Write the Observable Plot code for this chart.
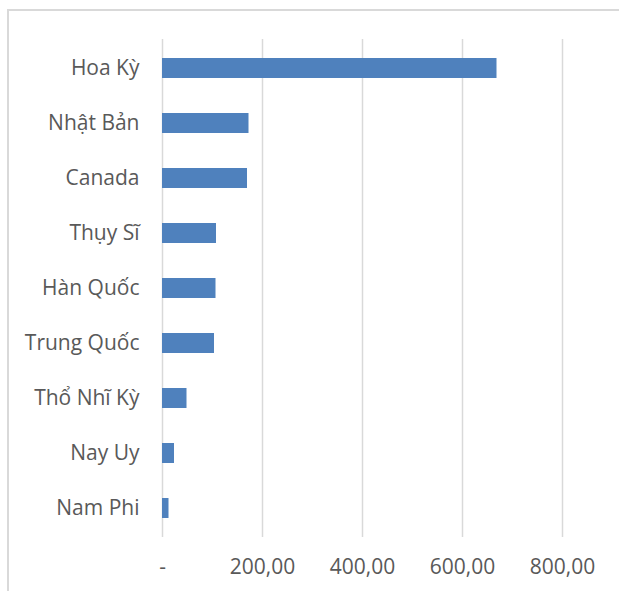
<!DOCTYPE html>
<html>
<head>
<meta charset="utf-8">
<script src="https://cdn.jsdelivr.net/npm/d3@7"></script>
<script src="https://cdn.jsdelivr.net/npm/@observablehq/plot@0.6"></script>
<style>
  html, body { margin: 0; padding: 0; background: #fff; }
  #wrap { position: relative; width: 619px; height: 591px; overflow: hidden; }
  #border { position: absolute; left: 7px; top: 9px; width: 700px; height: 700px;
            border-left: 2px solid #d9d9d9; border-top: 2px solid #d9d9d9; box-sizing: border-box; }
  #chart { position: absolute; left: 0; top: 0; }
</style>
</head>
<body>
<div id="wrap"><div id="border"></div><div id="chart"></div></div>
<script>
const countries = ["Hoa Kỳ", "Nhật Bản", "Canada", "Thụy Sĩ", "Hàn Quốc", "Trung Quốc", "Thổ Nhĩ Kỳ", "Nay Uy", "Nam Phi"];
const values = [669, 173, 170, 108, 107, 104, 49, 24, 13];
const xTicks = [0, 200, 400, 600, 800];

const data = countries.map((c, i) => ({country: c, value: values[i]}));
const fmt = d => d === 0 ? "-" : d.toFixed(2).replace(".", ",");

const chart = Plot.plot({
  width: 619,
  height: 591,
  marginLeft: 162,
  marginRight: 57,
  marginTop: 39,
  marginBottom: 54,
  style: {fontFamily: "'Open Sans', sans-serif", fontSize: "21px", color: "#595959", background: "transparent"},
  x: {domain: [0, 800], ticks: xTicks, tickFormat: fmt, label: null},
  y: {domain: countries, paddingInner: 0.64, paddingOuter: 0.32, label: null},
  marks: [
    Plot.ruleX(xTicks, {stroke: "#d9d9d9", strokeWidth: 1.5}),
    Plot.barX(data, {x: "value", y: "country", fill: "#4f81bd"}),
    Plot.axisX({ticks: xTicks, tickFormat: fmt, tickSize: 0, tickPadding: 22, fill: "#595959", fontSize: 21}),
    Plot.axisY({tickSize: 0, tickPadding: 23, fill: "#595959", fontSize: 21})
  ]
});
document.getElementById("chart").appendChild(chart);
</script>
</body>
</html>
